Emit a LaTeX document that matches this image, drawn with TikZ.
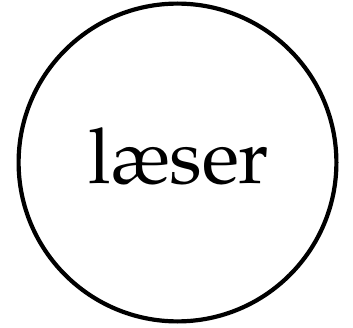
\documentclass[tikz,border=0pt]{standalone}
\IfFileExists{mathpazo.sty}{\usepackage[T1]{fontenc}\usepackage{mathpazo}}{%
  \IfFileExists{palatino.sty}{\usepackage[T1]{fontenc}\usepackage{palatino}}{%
    \usepackage{fontspec}\setmainfont{Liberation Serif}}}
\tikzset{ring/.style={circle,draw=black,line width=4.2pt,minimum size=317.8pt,inner sep=0pt}}
\begin{document}
\begin{tikzpicture}[x=1pt,y=1pt]
\useasboundingbox (0,0) rectangle (353,327);
\node[ring] (c) at (177.5,164.5) {};
\node[anchor=base,inner sep=0pt,font=\fontsize{77}{80}\selectfont] (t) at (179,144) {læser};
\end{tikzpicture}
\end{document}
